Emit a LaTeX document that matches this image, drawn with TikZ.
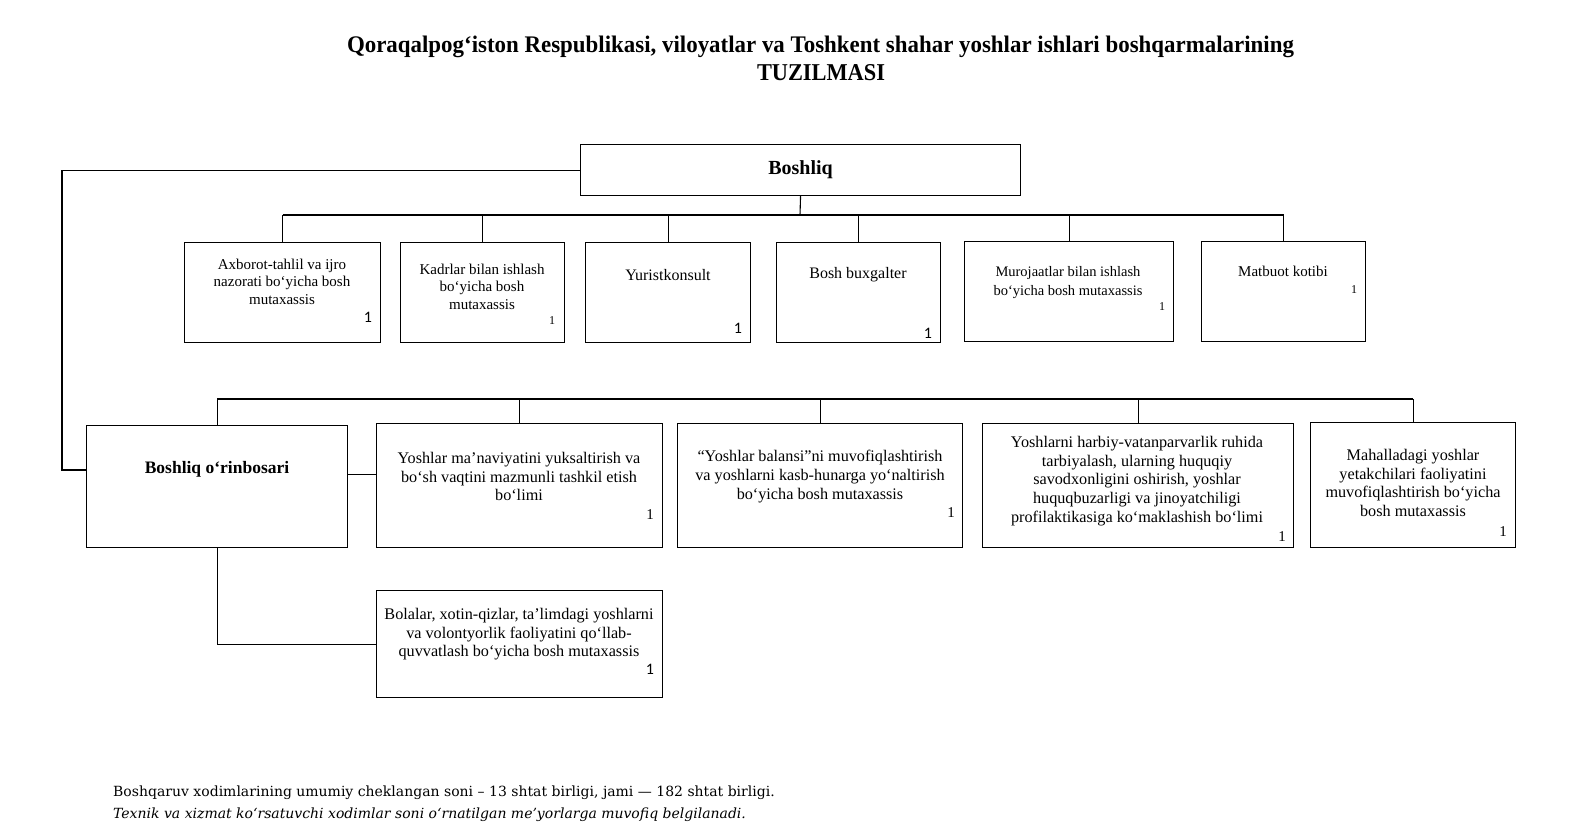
\documentclass[tikz,border=0pt]{standalone}
\usepackage{fontspec}
\setmainfont{Liberation Serif}
\newfontfamily\calibrif{Carlito}
\newfontfamily\notaf{DejaVu Serif}
\usetikzlibrary{positioning}

\tikzset{
    casella/.style={draw, line width=1.1pt, inner sep=0pt, anchor=north west},
    testo/.style={align=center, inner sep=0pt, anchor=north, font=\fontsize{15}{17.2}\selectfont},
    testogr/.style={align=center, inner sep=0pt, anchor=north, font=\fontsize{16.2}{18.7}\selectfont},
    cifra/.style={inner sep=0pt, font=\fontsize{15}{15}\selectfont},
    cifrap/.style={inner sep=0pt, font=\fontsize{12}{12}\selectfont},
    linea/.style={line width=1.1pt}
}

\begin{document}
\begin{tikzpicture}[x=1pt, y=-1pt]
    \useasboundingbox (0,0) rectangle (1569,838);
    % Titolo
    \node[anchor=base, inner sep=0pt, font=\bfseries\fontsize{22}{22}\selectfont] (tit1) at (820.5,52)
        {\resizebox{947pt}{16.5pt}{Qoraqalpog‘iston Respublikasi, viloyatlar va Toshkent shahar yoshlar ishlari boshqarmalarining}};
    \node[anchor=base, inner sep=0pt, font=\bfseries\fontsize{22}{22}\selectfont] (tit2) at (821,80)
        {\resizebox{128pt}{16pt}{TUZILMASI}};
    % Boshliq
    \node[casella, minimum width=440, minimum height=51, font=\bfseries\fontsize{20}{20}\selectfont] (capo) at (580,144) {Boshliq};
    % Riga superiore
    \node[casella, minimum width=196, minimum height=100] (axb) at (184,242) {};
    \node[casella, minimum width=164, minimum height=100] (kad) at (400,242) {};
    \node[casella, minimum width=165, minimum height=100] (yur) at (585,242) {};
    \node[casella, minimum width=164, minimum height=100] (bux) at (776,242) {};
    \node[casella, minimum width=209, minimum height=100] (mur) at (964,241) {};
    \node[casella, minimum width=164, minimum height=100] (mat) at (1201,241) {};
    \node[testo] (axb-t) at (282,259) {Axborot-tahlil va ijro\\nazorati bo‘yicha bosh\\mutaxassis};
    \node[testo] (kad-t) at (482,264) {Kadrlar bilan ishlash\\bo‘yicha bosh\\mutaxassis};
    \node[testo, font=\fontsize{16}{18}\selectfont] (yur-t) at (668,269) {Yuristkonsult};
    \node[testo, font=\fontsize{16}{18}\selectfont] (bux-t) at (858,267) {Bosh buxgalter};
    \node[testo, font=\fontsize{14.5}{19}\selectfont] (mur-t) at (1068,266) {Murojaatlar bilan ishlash\\bo‘yicha bosh mutaxassis};
    \node[testo] (mat-t) at (1283,266) {Matbuot kotibi};
    % Numeri
    \node[cifra, font=\calibrif\fontsize{16}{16}\selectfont] (axb-n) at (368,317) {1};
    \node[cifrap] (kad-n) at (552,321) {1};
    \node[cifra, font=\calibrif\fontsize{16}{16}\selectfont] (yur-n) at (738,328) {1};
    \node[cifra, font=\calibrif\fontsize{16}{16}\selectfont] (bux-n) at (928,333) {1};
    \node[cifrap] (mur-n) at (1162,307) {1};
    \node[cifrap] (mat-n) at (1354,290) {1};
    % Collegamenti Boshliq
    \coordinate (barra) at (800,215);
    \draw[linea] (capo.south) -- (barra);
    \draw[linea] (axb.north |- barra) -- (mat.north |- barra);
    \foreach \n in {axb,kad,yur,bux,mur,mat}
        \draw[linea] (\n.north |- barra) -- (\n.north);
    % Riga inferiore
    \node[casella, minimum width=261, minimum height=122] (vice) at (86,425) {};
    \node[casella, minimum width=286, minimum height=124] (yma) at (376,423) {};
    \node[casella, minimum width=285, minimum height=124] (ybal) at (677,423) {};
    \node[casella, minimum width=311, minimum height=124] (yhar) at (982,423) {};
    \node[casella, minimum width=205, minimum height=125] (mah) at (1310,422) {};
    \node[casella, minimum width=286, minimum height=107] (bol) at (376,590) {};
    \node[testo, font=\bfseries\fontsize{17.5}{20}\selectfont] (vice-t) at (217,461) {Boshliq o‘rinbosari};
    \node[testogr] (yma-t) at (519,452) {Yoshlar ma’naviyatini yuksaltirish va\\bo‘sh vaqtini mazmunli tashkil etish\\bo‘limi};
    \node[testogr] (ybal-t) at (820,450) {“Yoshlar balansi”ni muvofiqlashtirish\\va yoshlarni kasb-hunarga yo‘naltirish\\bo‘yicha bosh mutaxassis};
    \node[testogr] (yhar-t) at (1137,436) {Yoshlarni harbiy-vatanparvarlik ruhida\\tarbiyalash, ularning huquqiy\\savodxonligini oshirish, yoshlar\\huquqbuzarligi va jinoyatchiligi\\profilaktikasiga ko‘maklashish bo‘limi};
    \node[testogr] (mah-t) at (1413,449) {Mahalladagi yoshlar\\yetakchilari faoliyatini\\muvofiqlashtirish bo‘yicha\\bosh mutaxassis};
    \node[testogr] (bol-t) at (519,608) {Bolalar, xotin-qizlar, ta’limdagi yoshlarni\\va volontyorlik faoliyatini qo‘llab-\\quvvatlash bo‘yicha bosh mutaxassis};
    \node[cifra] (yma-n) at (650,515) {1};
    \node[cifra] (ybal-n) at (951,513) {1};
    \node[cifra] (yhar-n) at (1282,537) {1};
    \node[cifra] (mah-n) at (1503,532) {1};
    \node[cifra, font=\calibrif\fontsize{16}{16}\selectfont] (bol-n) at (650,669) {1};
    % Collegamenti sostituto
    \coordinate (barrab) at (800,399);
    \draw[linea] (vice.north |- barrab) -- (mah.north |- barrab);
    \foreach \n in {vice,yma,ybal,yhar,mah}
        \draw[linea] (\n.north |- barrab) -- (\n.north);
    \coordinate (gomito) at (62,470);
    \draw[linea] (capo.west) -| (gomito) -- (gomito -| vice.west);
    \coordinate (vice-d) at ([yshift=12pt]vice.east);
    \draw[linea] (vice-d) -- (vice-d -| yma.west);
    \draw[linea] (vice.south) |- (bol.west);
    % Nota
    \node[anchor=base west, inner sep=0pt, font=\notaf\fontsize{14}{14}\selectfont] (nota1) at (113,796)
        {Boshqaruv xodimlarining umumiy cheklangan soni – 13 shtat birligi, jami — 182 shtat birligi.};
    \node[anchor=base west, inner sep=0pt, font=\notaf\itshape\fontsize{14}{14}\selectfont] (nota2) at (113,818)
        {Texnik va xizmat ko‘rsatuvchi xodimlar soni o‘rnatilgan me’yorlarga muvofiq belgilanadi.};
\end{tikzpicture}
\end{document}
